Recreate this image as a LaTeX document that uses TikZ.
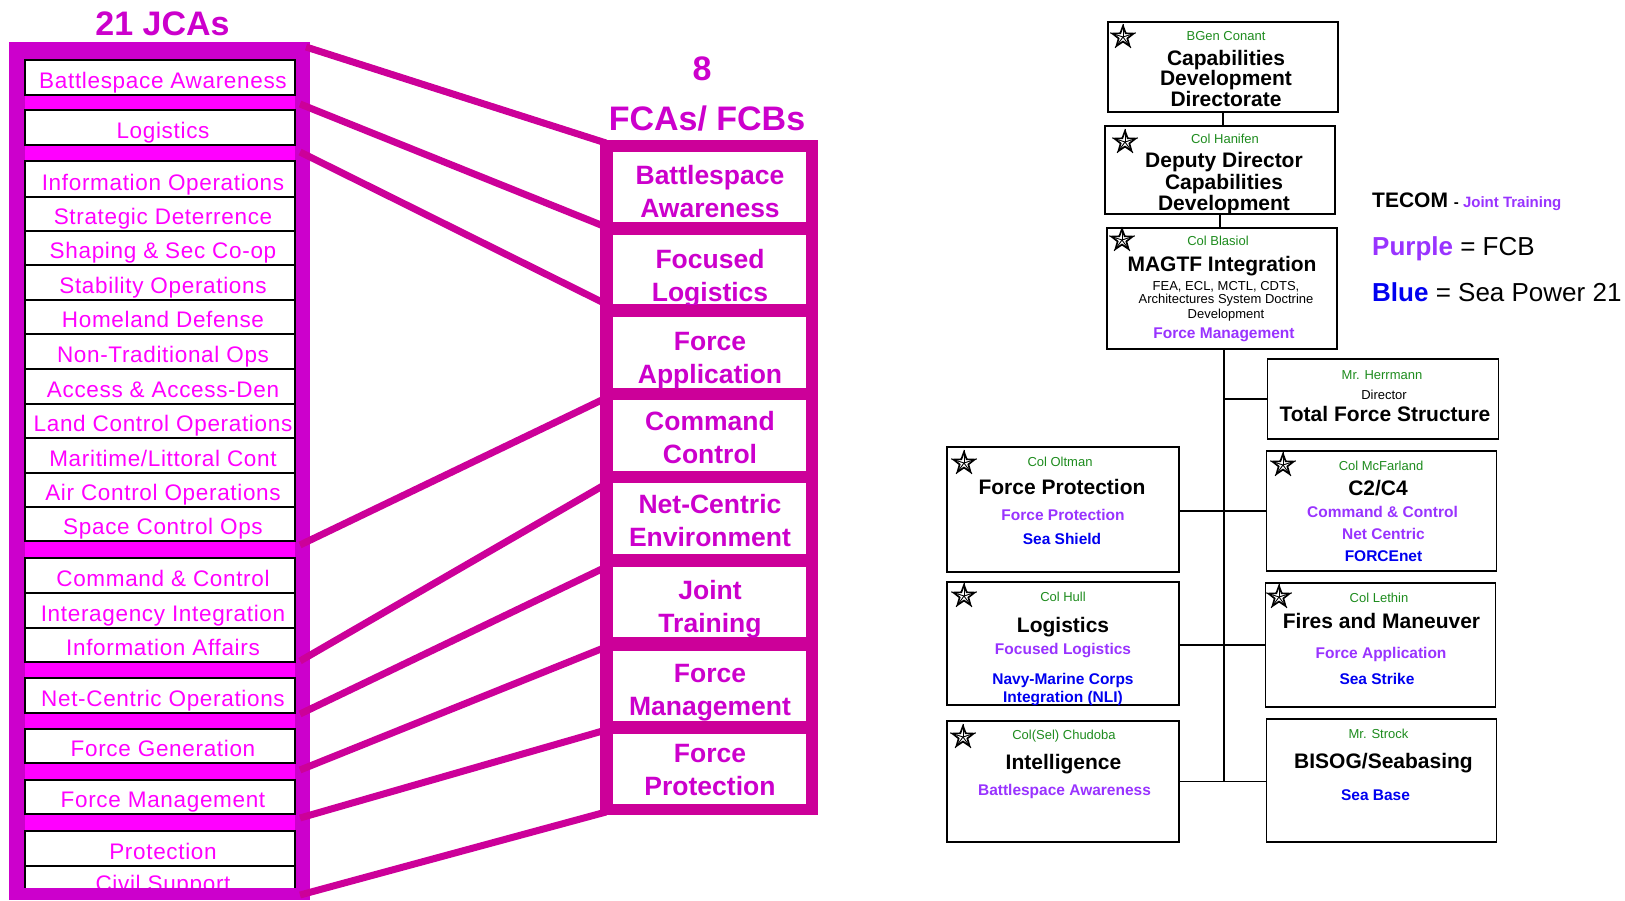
\documentclass[tikz,border=0pt]{standalone}
\usepackage{fontspec}
\setmainfont{Liberation Sans}
\newfontfamily\jcafont[LetterSpace=3]{Liberation Sans}
\usetikzlibrary{shapes.geometric}

\definecolor{cJcaFrame}{RGB}{204,0,204}
\definecolor{cJcaBar}{RGB}{255,0,255}
\definecolor{cJcaText}{RGB}{255,0,255}
\definecolor{cFcaFrame}{RGB}{204,0,153}
\definecolor{cFcaText}{RGB}{204,0,204}
\definecolor{cPurple}{RGB}{153,51,255}
\definecolor{cBlue}{RGB}{0,0,240}
\definecolor{cGreen}{RGB}{30,140,30}

\tikzset{
  jcacell/.style={draw=black, line width=1.5pt, fill=white, minimum width=270, inner sep=0, outer sep=0},
  jcatext/.style={text=cJcaText, font=\jcafont\fontsize{22.5}{26}\selectfont, inner sep=0},
  fcabox/.style={fill=white, draw=none, minimum width=193, inner sep=0, outer sep=0},
  fcatext/.style={text=cFcaText, font=\fontsize{26.5}{30}\selectfont\bfseries, inner sep=0, anchor=base},
  bigtitle/.style={text=cFcaText, font=\fontsize{34}{40}\selectfont\bfseries, inner sep=0, anchor=base},
  fcaline/.style={draw=cFcaFrame, line width=7pt},
  orgbox/.style={draw=black, line width=1.4pt, fill=white, inner sep=0, outer sep=0},
  orgline/.style={draw=black, line width=1.5pt},
  gname/.style={text=cGreen, font=\fontsize{13}{15}\selectfont, inner sep=0, anchor=base},
  gsmall/.style={text=black, font=\fontsize{13}{15}\selectfont, inner sep=0, anchor=base},
  gtitle/.style={text=black, font=\fontsize{21}{24}\selectfont\bfseries, inner sep=0, anchor=base},
  gfcb/.style={text=cPurple, font=\fontsize{15.5}{18}\selectfont\bfseries, inner sep=0, anchor=base},
  gsea/.style={text=cBlue, font=\fontsize{15.5}{18}\selectfont\bfseries, inner sep=0, anchor=base},
  starnode/.style={star, star points=5, star point ratio=2.4, minimum size=22, inner sep=0, draw=black, line width=1.7pt, fill=white},
}

\newcommand{\JcaRow}[4]{%
  \node[jcacell, minimum height={#3-#2}] (#1) at (160,{(#2+#3)/2}) {};
  \node[jcatext, anchor=base, yshift=7pt, xshift=3pt] (#1t) at (#1.south) {#4};}

\newcommand{\FcaBox}[6]{%
  \node[fcabox, minimum height={#3-#2}] (#1) at (709.5,{(#2+#3)/2}) {};
  \begin{scope}
    \clip (#1.south west) rectangle (#1.north east);
    \node[fcatext] (#1a) at (710,#4) {#5};
    \node[fcatext] (#1b) at (710,{#4+33.3}) {#6};
  \end{scope}}

\newcommand{\OrgStar}[3]{%
  \node[starnode] (#1) at (#2,#3) {};
  \foreach \k in {1,...,5} \draw[line width=0.9pt] (#1.center) -- (#1.outer point \k);}

\begin{document}
\begin{tikzpicture}[x=1pt,y=-1pt]
\useasboundingbox (0,0) rectangle (1625,900);
\fill[white] (0,0) rectangle (1625,900);

% ---------- titles ----------
\node[bigtitle] (tjca) at (162.5,35) {21 JCAs};
\node[bigtitle] (teight) at (702,80) {8};
\node[bigtitle] (tfca) at (707,130.5) {FCAs/ FCBs};

% ---------- JCA column ----------
\fill[cJcaFrame] (9,42) rectangle (310,900);
\fill[cJcaBar] (25,60) rectangle (295,888);
\JcaRow{j1}{60}{95}{Battlespace Awareness}
\JcaRow{j2}{110}{145}{Logistics}
\JcaRow{j3}{161}{197}{Information Operations}
\JcaRow{j4}{197}{231}{Strategic Deterrence}
\JcaRow{j5}{231}{265}{Shaping \& Sec Co-op}
\JcaRow{j6}{265}{300}{Stability Operations}
\JcaRow{j7}{300}{334}{Homeland Defense}
\JcaRow{j8}{334}{369}{Non-Traditional Ops}
\JcaRow{j9}{369}{404}{Access \& Access-Den}
\JcaRow{j10}{404}{438}{Land Control Operations}
\JcaRow{j11}{438}{473}{Maritime/Littoral Cont}
\JcaRow{j12}{473}{507}{Air Control Operations}
\JcaRow{j13}{507}{541}{Space Control Ops}
\JcaRow{j14}{558}{593}{Command \& Control}
\JcaRow{j15}{593}{628}{Interagency Integration}
\JcaRow{j16}{628}{662}{Information Affairs}
\JcaRow{j17}{678}{713}{Net-Centric Operations}
\JcaRow{j18}{729}{763}{Force Generation}
\JcaRow{j19}{780}{814}{Force Management}
\JcaRow{j20}{831}{866}{Protection}
\JcaRow{j21}{866}{898}{Civil Support}
\fill[cJcaFrame] (9,888) rectangle (310,900);

% ---------- connectors JCA -> FCA ----------
\coordinate (L1) at (306,47);  \coordinate (R1) at (606,143);
\coordinate (L2) at (300,104); \coordinate (R2) at (606,227);
\coordinate (L3) at (300,152); \coordinate (R3) at (612,307);
\coordinate (L4) at (300,545); \coordinate (R4) at (606,398);
\coordinate (L5) at (300,661); \coordinate (R5) at (606,484);
\coordinate (L6) at (300,714); \coordinate (R6) at (606,567);
\coordinate (L7) at (300,770); \coordinate (R7) at (606,647);
\coordinate (L8) at (300,818); \coordinate (R8) at (606,730);
\coordinate (L9) at (300,895); \coordinate (R9) at (606,812);
\foreach \i in {1,...,9} \draw[fcaline] (L\i) -- (R\i);

% ---------- FCA column ----------
\fill[cFcaFrame] (600,140) rectangle (818,815);
\FcaBox{f1}{152}{222}{184.5}{Battlespace}{Awareness}
\FcaBox{f2}{235}{304}{268}{Focused}{Logistics}
\FcaBox{f3}{317}{388}{350}{Force}{Application}
\FcaBox{f4}{400}{471}{430}{Command}{Control}
\FcaBox{f5}{483}{554}{513}{Net-Centric}{Environment}
\FcaBox{f6}{567}{637}{599}{Joint}{Training}
\FcaBox{f7}{651}{721}{682.5}{Force}{Management}
\FcaBox{f8}{734}{804}{762.5}{Force}{Protection}

% ---------- org chart boxes ----------
\node[orgbox, minimum width=230, minimum height=90]  (cdd)   at (1223,67) {};
\node[orgbox, minimum width=230, minimum height=88]  (dd)    at (1220,170) {};
\node[orgbox, minimum width=230, minimum height=121] (magtf) at (1222,288.5) {};
\node[orgbox, minimum width=231, minimum height=80]  (tfs)   at (1383,399) {};
\node[orgbox, minimum width=232, minimum height=125] (fp)    at (1063,509.5) {};
\node[orgbox, minimum width=230, minimum height=120] (c2)    at (1381.5,511) {};
\node[orgbox, minimum width=232, minimum height=123] (logi)  at (1063,643.5) {};
\node[orgbox, minimum width=230, minimum height=124] (fires) at (1380.5,645) {};
\node[orgbox, minimum width=232, minimum height=121] (intel) at (1063,781.5) {};
\node[orgbox, minimum width=230, minimum height=123] (bisog) at (1381.5,780.5) {};

% ---------- org chart connectors ----------
\coordinate (trunkend) at (1224,782);
\draw[orgline] (cdd.south) -- (cdd.south |- dd.north);
\draw[orgline] (dd.south) -- (dd.south |- magtf.north);
\draw[orgline] (magtf.south -| trunkend) -- (trunkend);
\draw[orgline] (tfs.west) -- (tfs.west -| trunkend);
\draw[orgline] (c2.west -| fp.east) -- (c2.west);
\draw[orgline] (fires.west -| logi.east) -- (fires.west);
\draw[orgline] (intel.east) -- (intel.east -| bisog.west);

% ---------- stars ----------
\OrgStar{s1}{1123}{37}
\OrgStar{s2}{1125}{142}
\OrgStar{s3}{1122}{240}
\OrgStar{s4}{964}{463}
\OrgStar{s5}{1283}{465}
\OrgStar{s6}{964}{596}
\OrgStar{s7}{1279}{597}
\OrgStar{s8}{963}{737}

% ---------- org chart texts ----------
\node[gname]  (cdda) at (1226,40.5) {BGen Conant};
\node[gtitle] (cddb) at (1226,65) {Capabilities};
\node[gtitle] (cddc) at (1226,85.5) {Development};
\node[gtitle] (cddd) at (1226,106) {Directorate};

\node[gname]  (dda) at (1225,143.3) {Col Hanifen};
\node[gtitle] (ddb) at (1224,167.5) {Deputy Director};
\node[gtitle] (ddc) at (1224,189) {Capabilities};
\node[gtitle] (ddd) at (1224,210) {Development};

\node[gname]  (mga) at (1218,245) {Col Blasiol};
\node[gtitle] (mgb) at (1222,271.7) {MAGTF Integration};
\node[gsmall] (mgc) at (1226,290) {FEA, ECL, MCTL, CDTS,};
\node[gsmall] (mgd) at (1226,303.5) {Architectures System Doctrine};
\node[gsmall] (mge) at (1226,318) {Development};
\node[gfcb]   (mgf) at (1224,338.3) {Force Management};

\node[gname]  (tfsa) at (1382,379.3) {Mr. Herrmann};
\node[gsmall] (tfsb) at (1384,399) {Director};
\node[gtitle] (tfsc) at (1385,421.7) {Total Force Structure};

\node[gname]  (fpa) at (1060,466.7) {Col Oltman};
\node[gtitle] (fpb) at (1062,494) {Force Protection};
\node[gfcb]   (fpc) at (1063,520) {Force Protection};
\node[gsea]   (fpd) at (1062,544) {Sea Shield};

\node[gname]  (c2a) at (1381,470) {Col McFarland};
\node[gtitle] (c2b) at (1378,495.7) {C2/C4};
\node[gfcb]   (c2c) at (1382.5,517.3) {Command \& Control};
\node[gfcb]   (c2d) at (1383.5,539.3) {Net Centric};
\node[gsea]   (c2e) at (1383.5,561.7) {FORCEnet};

\node[gname]  (la) at (1063,601) {Col Hull};
\node[gtitle] (lb) at (1063,632.3) {Logistics};
\node[gfcb]   (lc) at (1063,654.3) {Focused Logistics};
\node[gsea]   (ld) at (1063,684.3) {Navy-Marine Corps};
\node[gsea]   (le) at (1063,702.7) {Integration (NLI)};

\node[gname]  (fra) at (1379,602.3) {Col Lethin};
\node[gtitle] (frb) at (1381.5,628.3) {Fires and Maneuver};
\node[gfcb]   (frc) at (1381,658.3) {Force Application};
\node[gsea]   (frd) at (1377,684.3) {Sea Strike};

\node[gname]  (ia) at (1064,739.3) {Col(Sel) Chudoba};
\node[gtitle] (ib) at (1063.5,769) {Intelligence};
\node[gfcb]   (ic) at (1064.5,795) {Battlespace Awareness};

\node[gname]  (ba) at (1378.5,738.3) {Mr. Strock};
\node[gtitle] (bb) at (1383.5,768.3) {BISOG/Seabasing};
\node[gsea]   (bc) at (1375.5,800) {Sea Base};

% ---------- legend ----------
\node[anchor=base west, inner sep=0] (lg1) at (1372,207.7)
  {\fontsize{21}{24}\selectfont\bfseries TECOM \fontsize{15}{18}\selectfont - \textcolor{cPurple}{Joint Training}};
\node[anchor=base west, inner sep=0] (lg2) at (1372,255)
  {\fontsize{26}{30}\selectfont\textcolor{cPurple}{\bfseries Purple} = FCB};
\node[anchor=base west, inner sep=0] (lg3) at (1372,301.7)
  {\fontsize{26}{30}\selectfont\textcolor{cBlue}{\bfseries Blue} = Sea Power 21};
\end{tikzpicture}
\end{document}
